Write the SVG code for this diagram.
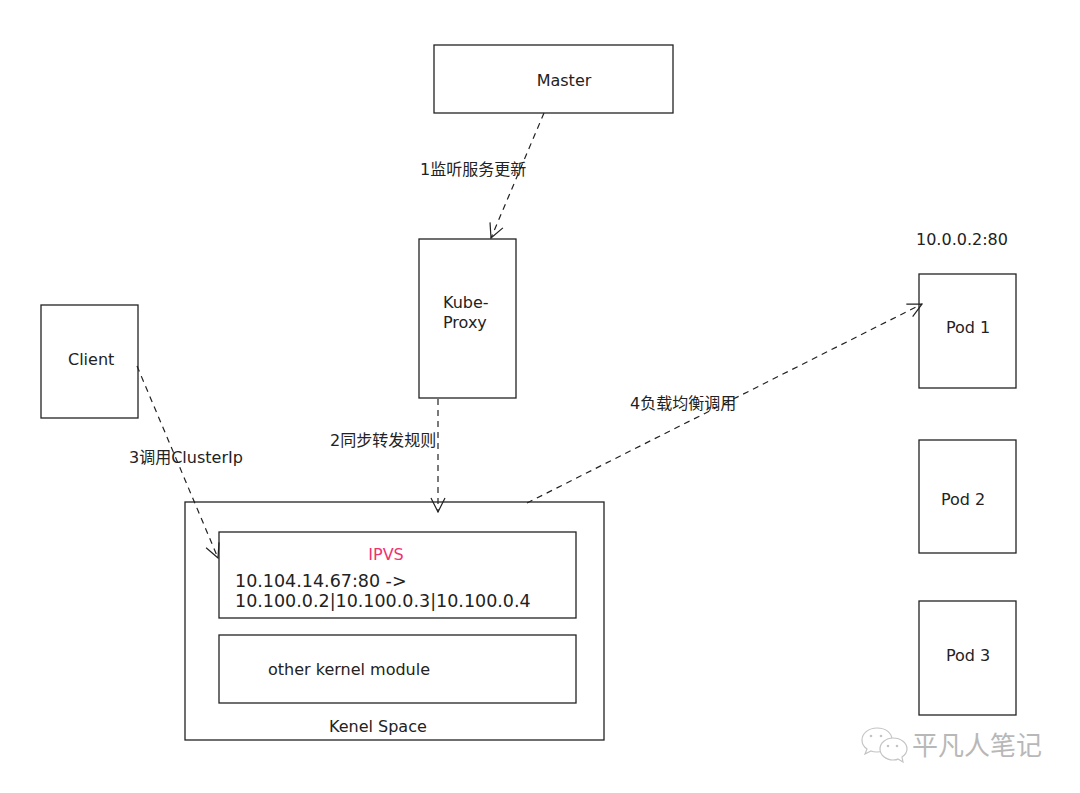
<svg xmlns="http://www.w3.org/2000/svg" width="1080" height="793" viewBox="0 0 1080 793">
<style>
.box{fill:#fff;stroke:#222;stroke-width:1.3}
.t{font-family:"DejaVu Sans","Noto Sans CJK SC",sans-serif;font-size:16px;fill:#222}
.ip{font-size:17.5px}
.conn{fill:none;stroke:#222;stroke-width:1.2;stroke-dasharray:6 5}
.wm{font-family:"Noto Sans CJK SC",sans-serif;font-size:26px;fill:#b8b8b8}
</style>
<defs>
<marker id="arr" viewBox="0 0 16 16" refX="15" refY="8" markerWidth="16" markerHeight="16" markerUnits="userSpaceOnUse" orient="auto">
<path d="M1,1 L15,8 L1,15" fill="none" stroke="#222" stroke-width="1.2" stroke-dasharray="none"/>
</marker>
</defs>
<rect width="1080" height="793" fill="#fff"/>
<g id="master"><rect class="box" x="434" y="45" width="239" height="68"/><text class="t" x="564" y="86" text-anchor="middle">Master</text></g>
<g id="kubeproxy"><rect class="box" x="419" y="239" width="97" height="159"/><text class="t" x="443" y="308">Kube-</text><text class="t" x="443" y="328">Proxy</text></g>
<g id="client"><rect class="box" x="41" y="305" width="97" height="113"/><text class="t" x="68" y="365">Client</text></g>
<g id="kernel"><rect class="box" x="185" y="502" width="419" height="238"/><text class="t" x="329" y="732">Kenel Space</text></g>
<g id="ipvs"><rect class="box" x="219" y="532" width="357" height="86"/><text class="t" x="386" y="560" text-anchor="middle" style="fill:#f0336e">IPVS</text><text class="t ip" x="235" y="587">10.104.14.67:80 -&gt;</text><text class="t ip" x="235" y="607">10.100.0.2|10.100.0.3|10.100.0.4</text></g>
<g id="othermod"><rect class="box" x="219" y="635" width="357" height="68"/><text class="t" x="268" y="675">other kernel module</text></g>
<g id="pod1"><text class="t" x="916" y="245">10.0.0.2:80</text><rect class="box" x="919" y="274" width="97" height="114"/><text class="t" x="946" y="333">Pod 1</text></g>
<g id="pod2"><rect class="box" x="919" y="440" width="97" height="113"/><text class="t" x="941" y="505">Pod 2</text></g>
<g id="pod3"><rect class="box" x="919" y="601" width="97" height="114"/><text class="t" x="946" y="661">Pod 3</text></g>
<g id="connectors">
<line class="conn" x1="544" y1="113" x2="491" y2="238" marker-end="url(#arr)"/>
<line class="conn" x1="438" y1="399" x2="438" y2="512" marker-end="url(#arr)"/>
<line class="conn" x1="137" y1="366" x2="218" y2="558" marker-end="url(#arr)"/>
<line class="conn" x1="527" y1="503" x2="922" y2="304" marker-end="url(#arr)"/>
<text class="t" x="420" y="175">1监听服务更新</text>
<text class="t" x="330" y="446">2同步转发规则</text>
<text class="t" x="129" y="463">3调用ClusterIp</text>
<text class="t" x="630" y="409">4负载均衡调用</text>
</g>
<g id="watermark">
<path d="M877,728 C869,728 862,733 862,740 C862,744 864,747 867,749 L865,754 L871,751 C873,752 875,752 877,752 C886,752 892,747 892,740 C892,733 886,728 877,728 Z" fill="#fff" stroke="#c4c4c4" stroke-width="1.2"/>
<circle cx="871" cy="736" r="1.3" fill="#c4c4c4"/><circle cx="881" cy="736" r="1.3" fill="#c4c4c4"/>
<path d="M893,738 C886,738 880,743 880,749 C880,755 886,760 893,760 C895,760 897,760 898,759 L903,762 L902,757 C905,755 907,752 907,749 C907,743 901,738 893,738 Z" fill="#fff" stroke="#c4c4c4" stroke-width="1.2"/>
<circle cx="888" cy="746" r="1.3" fill="#c4c4c4"/><circle cx="897" cy="746" r="1.3" fill="#c4c4c4"/>
<text class="wm" x="912" y="755">平凡人笔记</text>
</g>
</svg>
